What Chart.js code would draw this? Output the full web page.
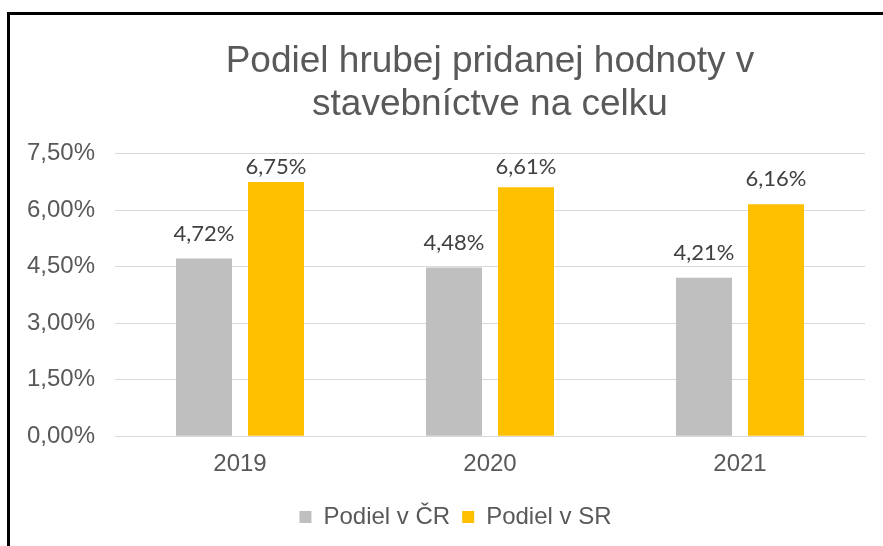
<!DOCTYPE html>
<html>
<head>
<meta charset="utf-8">
<script src="https://cdn.jsdelivr.net/npm/chart.js@4.4.0/dist/chart.umd.min.js"></script>
<style>
  html, body { margin: 0; padding: 0; background: #fff; overflow: hidden; }
  #wrap { position: relative; width: 883px; height: 546px; }
  #frame { position: absolute; left: 7px; top: 12px; width: 900px; height: 600px; border: 3px solid #000; box-sizing: border-box; pointer-events: none; }
  canvas { position: absolute; left: 0; top: 0; }
</style>
</head>
<body>
<div id="wrap">
  <canvas id="c" width="883" height="546"></canvas>
  <div id="frame"></div>
</div>
<script>
const titleLines = ['Podiel hrubej pridanej hodnoty v', 'stavebníctve na celku'];
const categories = ['2019', '2020', '2021'];
const seriesNames = ['Podiel v ČR', 'Podiel v SR'];
const valuesCR = [4.72, 4.48, 4.21];
const valuesSR = [6.75, 6.61, 6.16];
const yTicks = [0, 1.5, 3, 4.5, 6, 7.5];

const fmt = v => v.toFixed(2).replace('.', ',') + '%';

const dataLabels = {
  id: 'dataLabels',
  afterDatasetsDraw(chart) {
    const ctx = chart.ctx;
    const minBase = chart.chartArea.top + 20;
    ctx.save();
    ctx.font = '22px Lato';
    ctx.fillStyle = '#404040';
    ctx.textAlign = 'center';
    ctx.textBaseline = 'alphabetic';
    chart.data.datasets.forEach((ds, i) => {
      chart.getDatasetMeta(i).data.forEach((bar, j) => {
        ctx.fillText(fmt(ds.data[j]), bar.x, Math.max(bar.y - 18, minBase));
      });
    });
    ctx.restore();
  }
};

const legendShift = {
  id: 'legendShift',
  afterLayout(chart) {
    const lg = chart.legend;
    if (lg) { lg.left += 23; lg.right += 23; }
  }
};

new Chart(document.getElementById('c'), {
  type: 'bar',
  data: {
    labels: categories,
    datasets: [
      { label: seriesNames[0], data: valuesCR, backgroundColor: '#BFBFBF' },
      { label: seriesNames[1], data: valuesSR, backgroundColor: '#FFC000' }
    ]
  },
  options: {
    responsive: false,
    animation: false,
    events: [],
    layout: { padding: { left: 0, right: 18, top: 0, bottom: 7 } },
    datasets: { bar: { categoryPercentage: 0.576, barPercentage: 0.778 } },
    scales: {
      x: {
        grid: { display: false, drawTicks: false },
        border: { color: '#D9D9D9', width: 1 },
        ticks: { color: '#595959', font: { family: 'Liberation Sans', size: 24 }, padding: 14 }
      },
      y: {
        min: 0, max: 7.5,
        afterBuildTicks(scale) { scale.ticks = yTicks.map(v => ({ value: v })); },
        afterFit(scale) { scale.width = 115; },
        grid: { color: '#D9D9D9', lineWidth: 1, drawTicks: false },
        border: { display: false },
        ticks: { color: '#595959', font: { family: 'Liberation Sans', size: 24 }, padding: 20, callback: v => fmt(v) }
      }
    },
    plugins: {
      title: {
        display: true,
        fullSize: false,
        text: titleLines,
        color: '#595959',
        font: { family: 'Liberation Sans', size: 37, weight: 'normal', lineHeight: 1.16 },
        padding: { top: 40, bottom: 28 }
      },
      legend: {
        position: 'bottom',
        labels: {
          color: '#595959',
          font: { family: 'Liberation Sans', size: 24 },
          boxWidth: 12, boxHeight: 12, padding: 12
        }
      },
      tooltip: { enabled: false }
    }
  },
  plugins: [dataLabels, legendShift]
});
</script>
</body>
</html>
